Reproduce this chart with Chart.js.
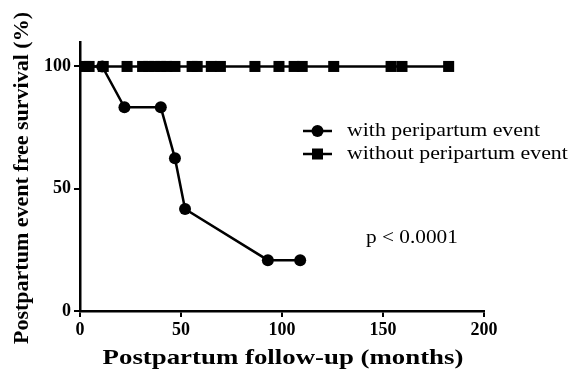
<!DOCTYPE html>
<html>
<head>
<meta charset="utf-8">
<script src="https://cdn.jsdelivr.net/npm/chart.js@4"></script>
<style>
  html, body { margin: 0; padding: 0; background: #fff; }
  #wrap { width: 572px; height: 376px; }
</style>
</head>
<body>
<div id="wrap"><canvas id="survivalChart" width="572" height="376"></canvas></div>
<script>
// follow-up times (months) and survival (%)
const withTimes = [0, 11, 22, 40, 47, 52, 93, 109];
const withSurvival = [100, 100, 83.3, 83.3, 62.5, 41.7, 20.8, 20.8];

const withoutTimes = [0, 2.5, 4.5, 11.5, 23.3, 31, 34, 37, 40, 43, 47, 55.5, 58, 65, 69.5, 86.6, 98.5, 106, 110, 125.6, 154, 159.4, 182.5];
const withoutSurvival = withoutTimes.map(() => 100);

const xTicks = [0, 50, 100, 150, 200];
const yTicks = [0, 50, 100];

const seriesNames = ['with peripartum event', 'without peripartum event'];
const pValueText = 'p < 0.0001';
const xTitle = 'Postpartum follow-up (months)';
const yTitle = 'Postpartum event free survival (%)';

const serif = '"Liberation Serif", "Times New Roman", serif';

function toPoints(xs, ys) {
    return xs.map((x, i) => ({ x: x, y: ys[i] }));
}

// draws horizontally stretched text (the reference is a bit widened)
function stretchText(ctx, text, x, y, sx, align) {
    ctx.save();
    ctx.translate(x, y);
    ctx.scale(sx, 1);
    ctx.textAlign = align;
    ctx.textBaseline = 'middle';
    ctx.fillText(text, 0, 0);
    ctx.restore();
}

const annotations = {
    id: 'annotations',
    afterDraw(chart) {
        const ctx = chart.ctx;
        ctx.save();
        ctx.fillStyle = '#000';
        ctx.strokeStyle = '#000';

        // axis titles
        ctx.font = 'bold 22px ' + serif;
        stretchText(ctx, xTitle, 283, 358, 1.22, 'center');

        ctx.save();
        ctx.translate(22, 178);
        ctx.rotate(-Math.PI / 2);
        ctx.textAlign = 'center';
        ctx.textBaseline = 'middle';
        ctx.fillText(yTitle, 0, 0);
        ctx.restore();

        // legend
        const rows = [131, 154];
        rows.forEach((y, i) => {
            ctx.lineWidth = 2.5;
            ctx.beginPath();
            ctx.moveTo(303, y);
            ctx.lineTo(332, y);
            ctx.stroke();
            if (i === 0) {
                ctx.beginPath();
                ctx.arc(317.5, y, 6, 0, Math.PI * 2);
                ctx.fill();
            } else {
                ctx.fillRect(312, y - 5.5, 11, 11);
            }
            ctx.font = '19px ' + serif;
            stretchText(ctx, seriesNames[i], 347, y, 1.15, 'left');
        });

        // p value
        ctx.font = '19px ' + serif;
        stretchText(ctx, pValueText, 366, 238, 1.12, 'left');
        ctx.restore();
    }
};

const ctx = document.getElementById('survivalChart').getContext('2d');

new Chart(ctx, {
    type: 'line',
    data: {
        datasets: [
            {
                label: seriesNames[0],
                data: toPoints(withTimes, withSurvival),
                borderColor: '#000',
                backgroundColor: '#000',
                borderWidth: 2.5,
                pointStyle: 'circle',
                pointRadius: c => (c.raw && c.raw.x === 0 ? 0 : 6),
                pointBorderWidth: 0,
                tension: 0,
                clip: false
            },
            {
                label: seriesNames[1],
                data: toPoints(withoutTimes, withoutSurvival),
                borderColor: '#000',
                backgroundColor: '#000',
                borderWidth: 2.5,
                pointStyle: 'rect',
                pointRadius: c => (c.raw && c.raw.x === 0 ? 0 : 7.8),
                pointBorderWidth: 0,
                tension: 0,
                clip: false
            }
        ]
    },
    options: {
        responsive: false,
        animation: false,
        layout: { padding: { left: 0, top: 42, right: 88, bottom: 0 } },
        plugins: {
            legend: { display: false },
            tooltip: { enabled: false }
        },
        scales: {
            x: {
                type: 'linear',
                min: 0,
                max: 200,
                afterFit: s => { s.height = 65; },
                afterBuildTicks: s => { s.ticks = xTicks.map(v => ({ value: v })); },
                border: { display: true, color: '#000', width: 2.5 },
                grid: { drawOnChartArea: false, drawTicks: true, tickLength: 6, color: '#000', lineWidth: 2 },
                ticks: {
                    color: '#000',
                    padding: 3,
                    maxRotation: 0,
                    font: { family: serif, size: 18, weight: 'bold' }
                },
                title: { display: false }
            },
            y: {
                type: 'linear',
                min: 0,
                max: 110,
                afterFit: s => { s.width = 80; },
                afterBuildTicks: s => { s.ticks = yTicks.map(v => ({ value: v })); },
                border: { display: true, color: '#000', width: 2.5 },
                grid: { drawOnChartArea: false, drawTicks: true, tickLength: 6, color: '#000', lineWidth: 2 },
                ticks: {
                    color: '#000',
                    padding: 3,
                    font: { family: serif, size: 18, weight: 'bold' }
                },
                title: { display: false }
            }
        }
    },
    plugins: [annotations]
});
</script>
</body>
</html>
